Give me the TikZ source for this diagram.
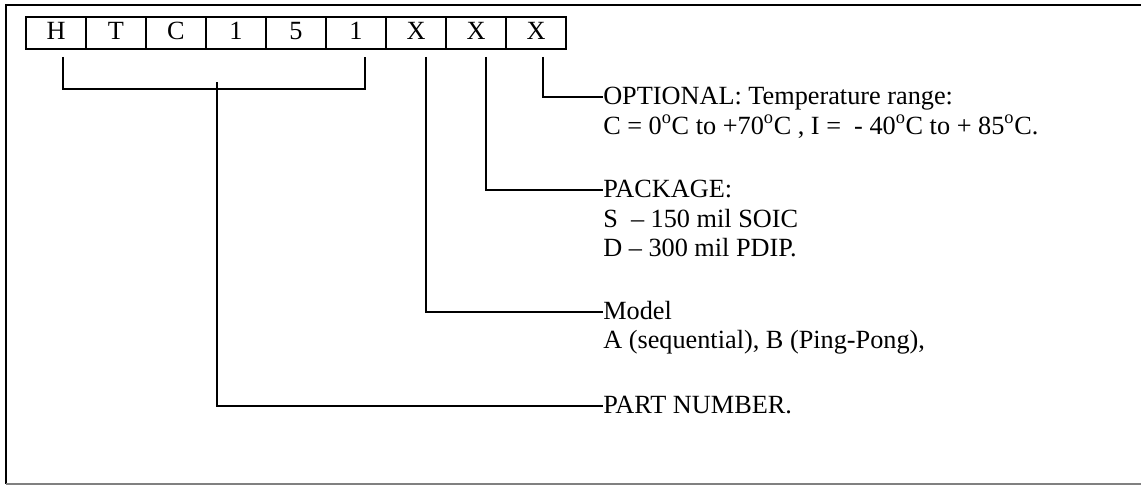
\documentclass[tikz,border=0pt]{standalone}
\usepackage{fontspec}
\setmainfont{Liberation Serif}
\begin{document}
\begin{tikzpicture}[x=0.75pt,y=-0.75pt,
  cell/.style={draw,line width=1.5pt,minimum width=45pt,minimum height=24pt,inner sep=0pt,
    font=\fontsize{19.7pt}{22pt}\selectfont,text height=10.5pt,text depth=0pt},
  lbl/.style={anchor=base west,inner sep=0pt,font=\fontsize{19.7pt}{22pt}\selectfont,
    text height=10.5pt,text depth=0pt},
  conn/.style={line width=1.2pt},
  frame/.style={line width=1.3pt}]
\useasboundingbox (0,0) rectangle (1141,485);
% outer frame
\draw[frame] (1141,5) -- (6,5) -- (6,484);
\draw[frame,gray] (6,484) -- (1141,484);
% boxes
\foreach \t [count=\i] in {H,T,C,1,5,1,X,X,X}{
  \node[cell] (b\i) at ({26+60*(\i-1)+30},33) {\t};
}
% labels
\node[lbl] (t1) at (603,104) {OPTIONAL: Temperature range:};
\node[lbl] (t1b) at (603,134) {C = 0\textsuperscript{o}C to +70\textsuperscript{o}C , I =\ \ - 40\textsuperscript{o}C to + 85\textsuperscript{o}C.};
\node[lbl] (t2) at (603,197) {PACKAGE:};
\node[lbl] (t2b) at (603,227) {S\ \ – 150 mil SOIC};
\node[lbl] (t2c) at (603,256) {D – 300 mil PDIP.};
\node[lbl] (t3) at (603,319) {Model};
\node[lbl] (t3b) at (603,348) {A (sequential), B (Ping-Pong),};
\node[lbl] (t4) at (603,413) {PART NUMBER.};
% connector start points
\coordinate (s1) at (63,57);
\coordinate (s6) at (365,57);
\coordinate (s7) at (426,57);
\coordinate (s8) at (486,57);
\coordinate (s9) at (543,57);
\coordinate (mid) at (217,89);
\coordinate (stemtop) at (217,82);
% connectors
\draw[conn] (s1) |- (mid) -| (s6);
\draw[conn] (stemtop) |- (t4.west);
\draw[conn] (s7) |- (t3.west);
\draw[conn] (s8) |- (t2.west);
\draw[conn] (s9) |- (t1.west);
\end{tikzpicture}
\end{document}
